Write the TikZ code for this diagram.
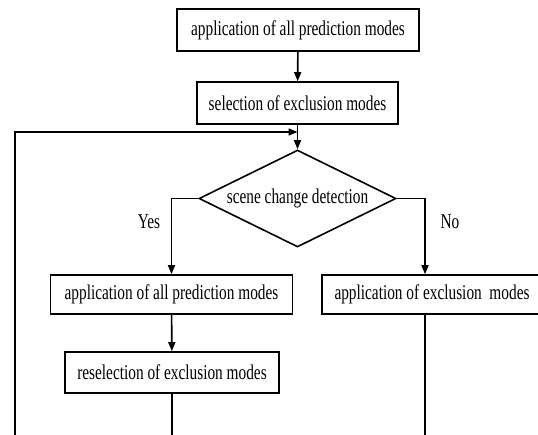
\documentclass[tikz,border=0pt]{standalone}
\usepackage{fontspec}
\setmainfont{Liberation Serif}[FakeStretch=0.73]
\usetikzlibrary{positioning, arrows.meta, shapes.geometric, calc}

\begin{document}
\begin{tikzpicture}[
    x=1pt, y=-1pt,
    modebox/.style={
        draw, rectangle, line width=1.6pt,
        minimum height=42pt, inner sep=0pt, align=center
    },
    decision/.style={
        draw, diamond, aspect=2, line width=1.6pt,
        minimum width=197pt, minimum height=97pt, inner sep=0pt
    },
    every node/.style={font=\fontsize{21}{23}\selectfont},
    arrow/.style={-{Triangle[length=9pt,width=7pt]}, line width=1.6pt},
    line/.style={line width=1.6pt},
]

\useasboundingbox (0,0) rectangle (538,434);
\clip (0,0) rectangle (538,434);

\node[modebox, minimum width=242pt] (allmodes) at (298,30) {application of all prediction modes};
\node[modebox, minimum width=201pt] (select) at (297.5,103) {selection of exclusion modes};
\node[decision] (scene) at (297.5,198.5) {scene change detection};
% branches
\node[modebox, minimum width=242pt, minimum height=39pt] (allagain) at (171.5,294.5) {application of all prediction modes};
\node[modebox, minimum width=220pt, minimum height=39pt] (apply) at (432,294.5) {application of exclusion\ \ modes};
\node[modebox, minimum width=214pt, minimum height=41pt] (reselect) at (172,372.5) {reselection of exclusion modes};
\node (yes) at (149,222) {Yes};
\node (no) at (450,222) {No};

\coordinate (noturn) at (425,198.5);
\coordinate (looptop) at (15,132);
\coordinate (loopbottom) at (15,440);

\draw[arrow] (allmodes) -- (select);
\draw[arrow] (select) -- (scene);
\draw[arrow] (scene.west) -| (allagain.north);
\draw[arrow] (scene.east) -- (noturn) -- (noturn |- apply.north);
\draw[arrow] (allagain) -- (reselect);
\draw[arrow] (loopbottom) -- (looptop) -- (select.south |- looptop);
\draw[line] (reselect.south) -- (reselect.south |- loopbottom);
\draw[line] (noturn |- apply.south) -- (noturn |- loopbottom);
\end{tikzpicture}
\end{document}
